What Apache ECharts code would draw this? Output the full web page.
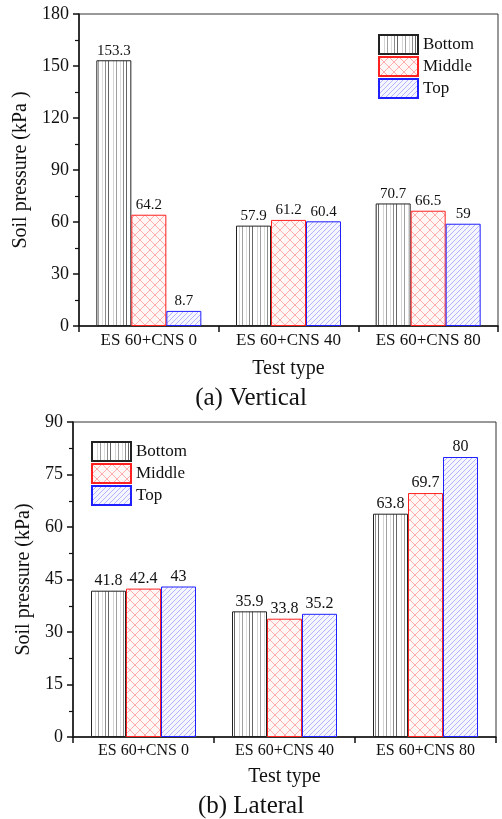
<!DOCTYPE html>
<html>
<head>
<meta charset="utf-8">
<script src="https://cdn.jsdelivr.net/npm/echarts@6/dist/echarts.min.js"></script>
<style>
  html, body { margin: 0; padding: 0; background: #fff; }
  #chart { width: 502px; height: 819px; }
</style>
</head>
<body>
<div id="chart"></div>
<script>
// test types on the x axis
const testTypes = ["ES 60+CNS 0", "ES 60+CNS 40", "ES 60+CNS 80"];
const positions = ["Bottom", "Middle", "Top"];

// (a) vertical soil pressure, kPa
const verticalBottom = [153.3, 57.9, 70.7];
const verticalMiddle = [64.2, 61.2, 66.5];
const verticalTop = [8.7, 60.4, 59];

// (b) lateral soil pressure, kPa
const lateralBottom = [41.8, 35.9, 63.8];
const lateralMiddle = [42.4, 33.8, 69.7];
const lateralTop = [43, 35.2, 80];

const FONT = "Liberation Serif";

// hatch patterns, drawn on small canvases
function makeTile(w, h, draw) {
  const c = document.createElement("canvas");
  c.width = w;
  c.height = h;
  draw(c.getContext("2d"), w, h);
  return c;
}

const bottomTile = makeTile(18, 4, (ctx, w, h) => {
  ctx.fillStyle = "#fff";
  ctx.fillRect(0, 0, w, h);
  const lines = [[0.5, "#666"], [5.5, "#d4d4d4"], [8.5, "#a0a0a0"], [12.5, "#dcdcdc"], [15.5, "#8c8c8c"]];
  lines.forEach(([x, col]) => {
    ctx.strokeStyle = col;
    ctx.lineWidth = 1;
    ctx.beginPath();
    ctx.moveTo(x, 0);
    ctx.lineTo(x, h);
    ctx.stroke();
  });
});

const middleTile = makeTile(10, 10, (ctx, w, h) => {
  ctx.fillStyle = "#fff6f6";
  ctx.fillRect(0, 0, w, h);
  ctx.strokeStyle = "rgba(255,40,40,0.45)";
  ctx.lineWidth = 0.8;
  ctx.beginPath();
  ctx.moveTo(0, 0);
  ctx.lineTo(w, h);
  ctx.moveTo(0, h);
  ctx.lineTo(w, 0);
  ctx.stroke();
});

const topTile = makeTile(5, 5, (ctx, w, h) => {
  ctx.fillStyle = "#f6f6ff";
  ctx.fillRect(0, 0, w, h);
  ctx.strokeStyle = "rgba(60,60,255,0.45)";
  ctx.lineWidth = 0.8;
  ctx.beginPath();
  ctx.moveTo(-1, h + 1);
  ctx.lineTo(w + 1, -1);
  ctx.stroke();
});

const fills = {
  Bottom: { image: bottomTile, repeat: "repeat" },
  Middle: { image: middleTile, repeat: "repeat" },
  Top: { image: topTile, repeat: "repeat" },
};
const borders = { Bottom: "#222", Middle: "#ff2020", Top: "#2020ff" };

function barSeries(name, data, idx, labelSize) {
  return {
    name: name,
    type: "bar",
    xAxisIndex: idx,
    yAxisIndex: idx,
    data: data,
    barWidth: 35,
    barGap: "0%",
    itemStyle: {
      color: fills[name],
      borderColor: borders[name],
      borderWidth: 1,
    },
    label: {
      show: true,
      position: "top",
      distance: 2,
      color: "#111",
      fontFamily: FONT,
      fontSize: labelSize,
    },
  };
}

function xAxisFor(idx, labelSize) {
  return {
    type: "category",
    gridIndex: idx,
    data: testTypes,
    name: "Test type",
    nameLocation: "middle",
    nameGap: idx === 0 ? 33 : 30,
    nameTextStyle: { fontFamily: FONT, fontSize: 20, color: "#111" },
    axisLine: { lineStyle: { color: "#111", width: 1.5 } },
    axisTick: { show: true, length: 6, lineStyle: { color: "#111", width: 1.5 } },
    axisLabel: { fontFamily: FONT, fontSize: labelSize, color: "#111", margin: 6 },
  };
}

function yAxisFor(idx, max, interval, name, nameGap) {
  return {
    type: "value",
    gridIndex: idx,
    min: 0,
    max: max,
    interval: interval,
    name: name,
    nameLocation: "middle",
    nameGap: nameGap,
    nameTextStyle: { fontFamily: FONT, fontSize: 20, color: "#111" },
    axisLine: { show: true, lineStyle: { color: "#111", width: 1.5 } },
    axisTick: { show: true, length: 6, lineStyle: { color: "#111", width: 1.5 } },
    minorTick: { show: true, splitNumber: 2, length: 4, lineStyle: { color: "#111", width: 1.2 } },
    splitLine: { show: false },
    axisLabel: { fontFamily: FONT, fontSize: 18, color: "#111", margin: 10 },
  };
}

function legendFor(left, top) {
  return {
    orient: "vertical",
    left: left,
    top: top,
    padding: 0,
    itemGap: 1,
    itemWidth: 39,
    itemHeight: 19,
    itemTextGap: 9,
    icon: "rect",
    data: positions,
    textStyle: { fontFamily: FONT, fontSize: 17, color: "#111" },
  };
}

const chart = echarts.init(document.getElementById("chart"));

const option = {
  animation: false,
  backgroundColor: "#fff",
  title: [
    {
      text: "(a) Vertical",
      left: "center",
      top: 381,
      textStyle: { fontFamily: FONT, fontSize: 25, fontWeight: "normal", color: "#111" },
    },
    {
      text: "(b) Lateral",
      left: "center",
      top: 789,
      textStyle: { fontFamily: FONT, fontSize: 25, fontWeight: "normal", color: "#111" },
    },
  ],
  legend: [legendFor(378, 34), legendFor(91, 441)],
  grid: [
    { left: 79, right: 4, top: 14, height: 312, show: true, borderColor: "#333", borderWidth: 1, backgroundColor: "transparent" },
    { left: 73, right: 6, top: 422, height: 315, show: true, borderColor: "#333", borderWidth: 1, backgroundColor: "transparent" },
  ],
  xAxis: [xAxisFor(0, 17), xAxisFor(1, 16)],
  yAxis: [
    yAxisFor(0, 180, 30, "Soil pressure (kPa )", 40),
    yAxisFor(1, 90, 15, "Soil pressure (kPa)", 37),
  ],
  series: [
    barSeries("Bottom", verticalBottom, 0, 15),
    barSeries("Middle", verticalMiddle, 0, 15),
    barSeries("Top", verticalTop, 0, 15),
    barSeries("Bottom", lateralBottom, 1, 16),
    barSeries("Middle", lateralMiddle, 1, 16),
    barSeries("Top", lateralTop, 1, 16),
  ],
};

chart.setOption(option);
</script>
</body>
</html>
